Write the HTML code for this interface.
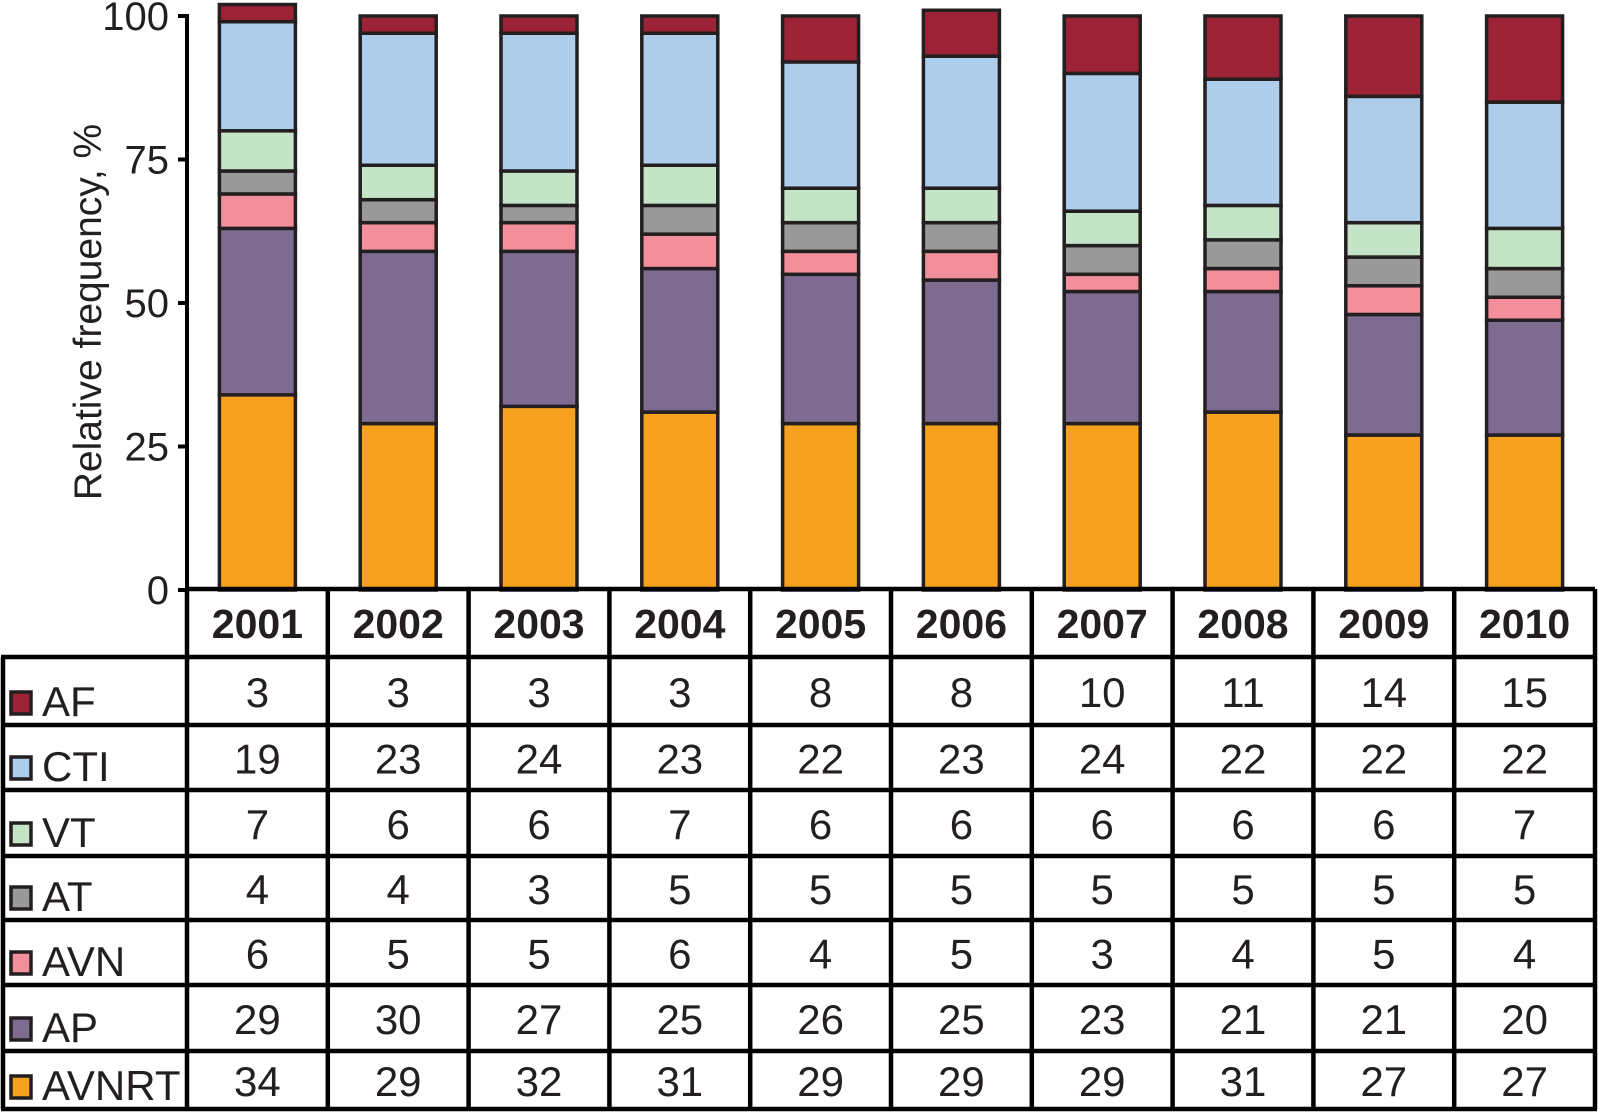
<!DOCTYPE html>
<html><head><meta charset="utf-8"><style>
html,body{margin:0;padding:0;background:#fff;}
svg{display:block;}
text{font-family:"Liberation Sans",Arial,sans-serif;fill:#231f20;}
</style></head><body>
<svg id="chart" width="1598" height="1112" viewBox="0 0 1598 1112" xmlns="http://www.w3.org/2000/svg"></svg>
<script>
const years = ['2001','2002','2003','2004','2005','2006','2007','2008','2009','2010'];
const seriesNames = ['AF','CTI','VT','AT','AVN','AP','AVNRT'];
const seriesColors = ['#9b2335','#aecdeb','#c5e3c6','#999999','#f28f9a','#7e6b91','#f6a11f'];
const AF    = [3,3,3,3,8,8,10,11,14,15];
const CTI   = [19,23,24,23,22,23,24,22,22,22];
const VT    = [7,6,6,7,6,6,6,6,6,7];
const AT    = [4,4,3,5,5,5,5,5,5,5];
const AVN   = [6,5,5,6,4,5,3,4,5,4];
const AP    = [29,30,27,25,26,25,23,21,21,20];
const AVNRT = [34,29,32,31,29,29,29,31,27,27];
const yTicks = [0,25,50,75,100];

const seriesValues = [AF,CTI,VT,AT,AVN,AP,AVNRT];
const svg = document.getElementById('chart');
const NS = 'http://www.w3.org/2000/svg';
function mk(tag, attrs, parent){
  const e = document.createElementNS(NS, tag);
  for (const k in attrs) e.setAttribute(k, attrs[k]);
  (parent||svg).appendChild(e);
  return e;
}
const y0 = 590, y100 = 16;
function yScale(v){ return y0 - (y0 - y100) * v / 100; }
const colX0 = 187, colW = 140.8;
function colLeft(i){ return colX0 + i * colW; }
function colCenter(i){ return colLeft(i) + colW / 2; }
const barW = 76;
const ink = '#231f20';

for (let i = 0; i < years.length; i++) {
  const g = mk('g', {});
  
  
  let cum = 0;
  for (let s = seriesNames.length - 1; s >= 0; s--) {
    const v = seriesValues[s][i];
    const yt = yScale(cum + v), yb = yScale(cum);
    const r = mk('rect', {x: colCenter(i) - barW/2, y: yt, width: barW, height: yb - yt,
      fill: seriesColors[s], stroke: ink, 'stroke-width': 3.5}, g);
    
    
    cum += v;
  }
}

const axis = mk('line', {x1: colX0, y1: y100 - 2, x2: colX0, y2: y0, stroke: '#000', 'stroke-width': 4});


for (const t of yTicks) {
  const tk = mk('line', {x1: 178, y1: yScale(t), x2: colX0, y2: yScale(t), stroke: '#000', 'stroke-width': 4});
  
  
  const lb = mk('text', {x: 169, y: yScale(t) + 14, 'text-anchor': 'end', 'font-size': 40});
  lb.textContent = t;
  
  
}
const yt = mk('text', {x: 0, y: 0, 'text-anchor': 'middle', 'font-size': 39, transform: 'translate(101,312) rotate(-90)'});
yt.textContent = 'Relative frequency, %';



const rowLines = [657, 725, 790, 856, 920, 985, 1051, 1109];
const tb = mk('g', {});


const lw = 4.5;
mk('line', {x1: colX0, y1: 589, x2: colLeft(10), y2: 589, stroke: '#000', 'stroke-width': lw}, tb);
for (let i = 0; i <= 10; i++) {
  mk('line', {x1: colLeft(i), y1: 589, x2: colLeft(i), y2: 1109, stroke: '#000', 'stroke-width': lw}, tb);
}
mk('line', {x1: 3, y1: 657, x2: 3, y2: 1109, stroke: '#000', 'stroke-width': lw}, tb);
for (const ry of rowLines) {
  mk('line', {x1: 1, y1: ry, x2: colLeft(10) + 2, y2: ry, stroke: '#000', 'stroke-width': lw}, tb);
}
for (let i = 0; i < years.length; i++) {
  const h = mk('text', {x: colCenter(i), y: 638, 'text-anchor': 'middle', 'font-size': 41, 'font-weight': 'bold'}, tb);
  h.textContent = years[i];
  
  
}
for (let s = 0; s < seriesNames.length; s++) {
  const top = rowLines[s], bot = rowLines[s+1];
  const sw = mk('rect', {x: 11, y: bot - 33, width: 20, height: 22, fill: seriesColors[s], stroke: ink, 'stroke-width': 3.5}, tb);
  
  
  const lt = mk('text', {x: 42, y: bot - 9, 'font-size': 42}, tb);
  lt.textContent = seriesNames[s];
  
  
  for (let i = 0; i < years.length; i++) {
    const c = mk('text', {x: colCenter(i), y: (top + bot) / 2 + 16, 'text-anchor': 'middle', 'font-size': 42}, tb);
    c.textContent = seriesValues[s][i];
    
    
  }
}
</script>
</body></html>
